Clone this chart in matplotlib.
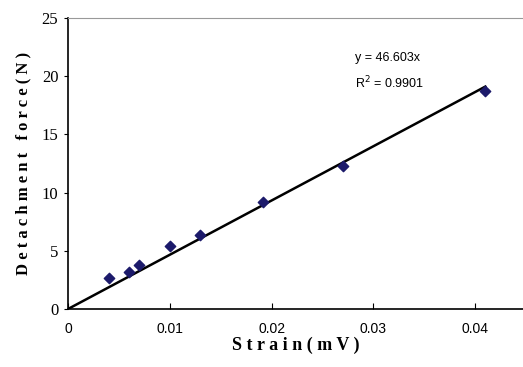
# Detachment force vs strain with linear fit through origin

import matplotlib.pyplot as plt
import numpy as np

strain = [0.004, 0.006, 0.007, 0.010, 0.013, 0.0192, 0.027, 0.041]
force = [2.7, 3.2, 3.8, 5.4, 6.4, 9.2, 12.3, 18.7]
# slope of the drawn trend line as it appears on the axes
# (the printed equation uses different strain units)
line_slope = 466.03
eq_text = "y = 46.603x"
r2_text = r"R$^2$ = 0.9901"

x_ticks = [0, 0.01, 0.02, 0.03, 0.04]
x_labels = ["0", "0.01", "0.02", "0.03", "0.04"]
y_ticks = [0, 5, 10, 15, 20, 25]


def main():
    fig = plt.figure(figsize=(5.23, 3.67), dpi=100)
    ax = fig.add_axes([0.130, 0.158, 0.870, 0.793])

    fit_x = np.array([0, max(strain)])
    ax.plot(fit_x, line_slope * fit_x, color="black", lw=1.8, zorder=2)
    ax.scatter(strain, force, marker="D", s=28, color="#1c1a6b", zorder=3)

    ax.set_xlim(0, 0.0447)
    ax.set_ylim(0, 25)
    ax.set_xticks(x_ticks)
    ax.set_xticklabels(x_labels, family="Liberation Sans", fontsize=10)
    ax.set_yticks(y_ticks)
    ax.set_yticklabels([str(v) for v in y_ticks], family="Liberation Serif", fontsize=12)
    ax.tick_params(axis="x", direction="in", length=4, pad=9)
    ax.tick_params(axis="y", direction="out", length=3, pad=4)

    ax.spines["right"].set_visible(False)
    ax.spines["top"].set_color("#999999")
    ax.spines["left"].set_linewidth(1.2)
    ax.spines["bottom"].set_linewidth(1.2)

    ax.set_xlabel("S t r a i n ( m V )", family="Liberation Serif", fontweight="bold",
                  fontsize=13, labelpad=1)
    ax.set_ylabel("D e t a c h m e n t   f o r c e ( N )", family="Liberation Serif",
                  fontweight="bold", fontsize=12, labelpad=7)

    ax.text(0.0282, 21.3, eq_text, family="Liberation Sans", fontsize=9)
    ax.text(0.0282, 19.0, r2_text, family="Liberation Sans", fontsize=9)

    fig.savefig("out.png", dpi=100)


if __name__ == "__main__":
    main()
